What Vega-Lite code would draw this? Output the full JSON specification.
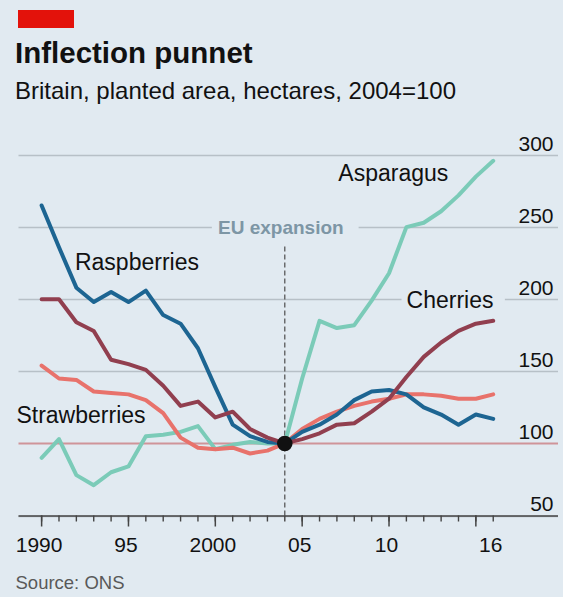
{
  "$schema": "https://vega.github.io/schema/vega-lite/v6.json",
  "background": "#e1eaf1",
  "padding": {"left": 15, "top": 10, "right": 5, "bottom": 5},
  "spacing": 127,
  "bounds": "flush",
  "config": {"view": {"stroke": null}, "font": "Liberation Sans"},
  "datasets": {
    "crops": [
      {"crop": "Asparagus", "year": 1990, "value": 90},
      {"crop": "Asparagus", "year": 1991, "value": 103},
      {"crop": "Asparagus", "year": 1992, "value": 78},
      {"crop": "Asparagus", "year": 1993, "value": 71},
      {"crop": "Asparagus", "year": 1994, "value": 80},
      {"crop": "Asparagus", "year": 1995, "value": 84},
      {"crop": "Asparagus", "year": 1996, "value": 105},
      {"crop": "Asparagus", "year": 1997, "value": 106},
      {"crop": "Asparagus", "year": 1998, "value": 108},
      {"crop": "Asparagus", "year": 1999, "value": 112},
      {"crop": "Asparagus", "year": 2000, "value": 96},
      {"crop": "Asparagus", "year": 2001, "value": 99},
      {"crop": "Asparagus", "year": 2002, "value": 101},
      {"crop": "Asparagus", "year": 2003, "value": 100},
      {"crop": "Asparagus", "year": 2004, "value": 100},
      {"crop": "Asparagus", "year": 2005, "value": 145},
      {"crop": "Asparagus", "year": 2006, "value": 185},
      {"crop": "Asparagus", "year": 2007, "value": 180},
      {"crop": "Asparagus", "year": 2008, "value": 182},
      {"crop": "Asparagus", "year": 2009, "value": 199},
      {"crop": "Asparagus", "year": 2010, "value": 218},
      {"crop": "Asparagus", "year": 2011, "value": 250},
      {"crop": "Asparagus", "year": 2012, "value": 253},
      {"crop": "Asparagus", "year": 2013, "value": 261},
      {"crop": "Asparagus", "year": 2014, "value": 272},
      {"crop": "Asparagus", "year": 2015, "value": 285},
      {"crop": "Asparagus", "year": 2016, "value": 296},
      {"crop": "Strawberries", "year": 1990, "value": 154},
      {"crop": "Strawberries", "year": 1991, "value": 145},
      {"crop": "Strawberries", "year": 1992, "value": 144},
      {"crop": "Strawberries", "year": 1993, "value": 136},
      {"crop": "Strawberries", "year": 1994, "value": 135},
      {"crop": "Strawberries", "year": 1995, "value": 134},
      {"crop": "Strawberries", "year": 1996, "value": 130},
      {"crop": "Strawberries", "year": 1997, "value": 121},
      {"crop": "Strawberries", "year": 1998, "value": 104},
      {"crop": "Strawberries", "year": 1999, "value": 97},
      {"crop": "Strawberries", "year": 2000, "value": 96},
      {"crop": "Strawberries", "year": 2001, "value": 97},
      {"crop": "Strawberries", "year": 2002, "value": 93},
      {"crop": "Strawberries", "year": 2003, "value": 95},
      {"crop": "Strawberries", "year": 2004, "value": 100},
      {"crop": "Strawberries", "year": 2005, "value": 110},
      {"crop": "Strawberries", "year": 2006, "value": 117},
      {"crop": "Strawberries", "year": 2007, "value": 122},
      {"crop": "Strawberries", "year": 2008, "value": 126},
      {"crop": "Strawberries", "year": 2009, "value": 129},
      {"crop": "Strawberries", "year": 2010, "value": 131},
      {"crop": "Strawberries", "year": 2011, "value": 134},
      {"crop": "Strawberries", "year": 2012, "value": 134},
      {"crop": "Strawberries", "year": 2013, "value": 133},
      {"crop": "Strawberries", "year": 2014, "value": 131},
      {"crop": "Strawberries", "year": 2015, "value": 131},
      {"crop": "Strawberries", "year": 2016, "value": 134},
      {"crop": "Raspberries", "year": 1990, "value": 265},
      {"crop": "Raspberries", "year": 1991, "value": 236},
      {"crop": "Raspberries", "year": 1992, "value": 208},
      {"crop": "Raspberries", "year": 1993, "value": 198},
      {"crop": "Raspberries", "year": 1994, "value": 205},
      {"crop": "Raspberries", "year": 1995, "value": 198},
      {"crop": "Raspberries", "year": 1996, "value": 206},
      {"crop": "Raspberries", "year": 1997, "value": 189},
      {"crop": "Raspberries", "year": 1998, "value": 183},
      {"crop": "Raspberries", "year": 1999, "value": 166},
      {"crop": "Raspberries", "year": 2000, "value": 139},
      {"crop": "Raspberries", "year": 2001, "value": 113},
      {"crop": "Raspberries", "year": 2002, "value": 105},
      {"crop": "Raspberries", "year": 2003, "value": 101},
      {"crop": "Raspberries", "year": 2004, "value": 100},
      {"crop": "Raspberries", "year": 2005, "value": 108},
      {"crop": "Raspberries", "year": 2006, "value": 113},
      {"crop": "Raspberries", "year": 2007, "value": 120},
      {"crop": "Raspberries", "year": 2008, "value": 130},
      {"crop": "Raspberries", "year": 2009, "value": 136},
      {"crop": "Raspberries", "year": 2010, "value": 137},
      {"crop": "Raspberries", "year": 2011, "value": 134},
      {"crop": "Raspberries", "year": 2012, "value": 125},
      {"crop": "Raspberries", "year": 2013, "value": 120},
      {"crop": "Raspberries", "year": 2014, "value": 113},
      {"crop": "Raspberries", "year": 2015, "value": 120},
      {"crop": "Raspberries", "year": 2016, "value": 117},
      {"crop": "Cherries", "year": 1990, "value": 200},
      {"crop": "Cherries", "year": 1991, "value": 200},
      {"crop": "Cherries", "year": 1992, "value": 184},
      {"crop": "Cherries", "year": 1993, "value": 178},
      {"crop": "Cherries", "year": 1994, "value": 158},
      {"crop": "Cherries", "year": 1995, "value": 155},
      {"crop": "Cherries", "year": 1996, "value": 151},
      {"crop": "Cherries", "year": 1997, "value": 140},
      {"crop": "Cherries", "year": 1998, "value": 126},
      {"crop": "Cherries", "year": 1999, "value": 129},
      {"crop": "Cherries", "year": 2000, "value": 118},
      {"crop": "Cherries", "year": 2001, "value": 122},
      {"crop": "Cherries", "year": 2002, "value": 110},
      {"crop": "Cherries", "year": 2003, "value": 104},
      {"crop": "Cherries", "year": 2004, "value": 100},
      {"crop": "Cherries", "year": 2005, "value": 103},
      {"crop": "Cherries", "year": 2006, "value": 107},
      {"crop": "Cherries", "year": 2007, "value": 113},
      {"crop": "Cherries", "year": 2008, "value": 114},
      {"crop": "Cherries", "year": 2009, "value": 122},
      {"crop": "Cherries", "year": 2010, "value": 131},
      {"crop": "Cherries", "year": 2011, "value": 146},
      {"crop": "Cherries", "year": 2012, "value": 160},
      {"crop": "Cherries", "year": 2013, "value": 170},
      {"crop": "Cherries", "year": 2014, "value": 178},
      {"crop": "Cherries", "year": 2015, "value": 183},
      {"crop": "Cherries", "year": 2016, "value": 185}
    ]
  },
  "vconcat": [
    {
      "width": 56,
      "height": 18,
      "data": {"values": [{"k": 1}]},
      "mark": {"type": "rect", "color": "#e3120b"}
    },
    {
      "width": 539.5,
      "height": 360.5,
      "title": {
        "text": "Inflection punnet",
        "subtitle": "Britain, planted area, hectares, 2004=100",
        "anchor": "start",
        "frame": "group",
        "dx": -3,
        "offset": 28,
        "font": "Liberation Sans",
        "fontSize": 29.5,
        "fontWeight": "bold",
        "color": "#111111",
        "subtitleFont": "Liberation Sans",
        "subtitleFontSize": 24,
        "subtitleColor": "#111111",
        "subtitlePadding": 11
      },
      "resolve": {"axis": {"x": "independent"}},
      "layer": [
        {
          "data": {"values": [{}]},
          "mark": {"type": "rect", "color": "#e1eaf1"},
          "encoding": {
            "x": {"datum": 1999.8, "type": "quantitative", "axis": null},
            "x2": {"datum": 2008.25},
            "y": {"datum": 246.5, "type": "quantitative"},
            "y2": {"datum": 253.5}
          }
        },
        {
          "data": {"values": [{}]},
          "mark": {"type": "rect", "color": "#e1eaf1"},
          "encoding": {
            "x": {"datum": 2010.72, "type": "quantitative", "axis": null},
            "x2": {"datum": 2016.67},
            "y": {"datum": 196.5, "type": "quantitative"},
            "y2": {"datum": 203.5}
          }
        },
        {
          "data": {"values": [{}]},
          "mark": {"type": "rule", "strokeDash": [5, 3], "color": "#4d4d4d", "strokeWidth": 1.2},
          "encoding": {
            "x": {
              "datum": 2004,
              "type": "quantitative",
              "axis": {
                "orient": "bottom",
                "values": [1990, 1995, 2000, 2005, 2010, 2016],
                "labelExpr": "datum.value == 1990 ? '1990' : datum.value == 1995 ? '95' : datum.value == 2000 ? '2000' : datum.value == 2005 ? '05' : datum.value == 2010 ? '10' : '16'",
                "ticks": false,
                "tickSize": 0,
                "domain": false,
                "grid": false,
                "labelFont": "Liberation Sans",
                "labelFontSize": 21,
                "labelColor": "#111111",
                "labelBaseline": "alphabetic",
                "labelPadding": 36,
                "labelOffset": -3,
                "labelFlush": false,
                "labelOverlap": false,
                "title": null
              }
            },
            "y": {"datum": 50, "type": "quantitative"},
            "y2": {"datum": 238}
          }
        },
        {
          "data": {"name": "crops"},
          "transform": [{"filter": "datum.crop === 'Cherries'"}],
          "mark": {"type": "rule", "color": "#444444", "strokeWidth": 1.4},
          "encoding": {
            "x": {"field": "year", "type": "quantitative", "axis": null},
            "y": {"datum": 50, "type": "quantitative"},
            "y2": {"datum": 45.84}
          }
        },
        {
          "data": {"name": "crops"},
          "transform": [{"filter": "datum.crop === 'Cherries' && datum.year % 5 === 0"}],
          "mark": {"type": "rule", "color": "#444444", "strokeWidth": 1.5},
          "encoding": {
            "x": {"field": "year", "type": "quantitative", "axis": null},
            "y": {"datum": 50, "type": "quantitative"},
            "y2": {"datum": 42.37}
          }
        },
        {
          "data": {"name": "crops"},
          "mark": {"type": "line", "strokeWidth": 4, "strokeJoin": "round", "strokeCap": "round"},
          "encoding": {
            "x": {
              "field": "year",
              "type": "quantitative",
              "scale": {"domain": [1988.64, 2019.7], "nice": false, "zero": false},
              "axis": {
                "orient": "bottom",
                "values": [1990, 2000, 2010],
                "ticks": false,
                "domainColor": "#444444",
                "domainWidth": 1.6,
                "grid": false,
                "labels": false,
                "title": "Source: ONS",
                "titleAnchor": "start",
                "titleAlign": "left",
                "titleX": -3,
                "titleY": 73,
                "titleBaseline": "alphabetic",
                "titleFont": "Liberation Sans",
                "titleFontSize": 18.5,
                "titleFontWeight": "normal",
                "titleColor": "#595959"
              }
            },
            "y": {
              "field": "value",
              "type": "quantitative",
              "scale": {"domain": [50, 300], "nice": false, "zero": false},
              "axis": {
                "orient": "right",
                "values": [50, 100, 150, 200, 250, 300],
                "grid": true,
                "gridColor": {"condition": {"test": "datum.value === 100", "value": "#cf9499"}, "value": "#b7c0c7"},
                "gridWidth": {"condition": {"test": "datum.value === 100", "value": 1.8}, "value": 1.4},
                "domain": false,
                "ticks": false,
                "tickSize": 0,
                "labelAlign": "right",
                "labelBaseline": "alphabetic",
                "labelPadding": -4.5,
                "labelOffset": -5,
                "labelFont": "Liberation Sans",
                "labelFontSize": 21,
                "labelColor": "#111111",
                "labelFlush": false,
                "title": null
              }
            },
            "color": {
              "field": "crop",
              "type": "nominal",
              "scale": {
                "domain": ["Asparagus", "Strawberries", "Raspberries", "Cherries"],
                "range": ["#7bcbb8", "#e8726b", "#1d6592", "#913f4f"]
              },
              "legend": null
            }
          }
        },
        {
          "data": {"values": [{}]},
          "mark": {"type": "circle", "size": 240, "color": "#111111", "opacity": 1},
          "encoding": {
            "x": {"datum": 2004, "type": "quantitative", "axis": null},
            "y": {"datum": 100, "type": "quantitative"}
          }
        },
        {
          "data": {"values": [{}]},
          "mark": {"type": "text", "align": "left", "baseline": "alphabetic", "fontSize": 23, "font": "Liberation Sans", "color": "#111111"},
          "encoding": {
            "x": {"datum": 1991.92, "type": "quantitative", "axis": null},
            "y": {"datum": 220.2, "type": "quantitative"},
            "text": {"value": "Raspberries"}
          }
        },
        {
          "data": {"values": [{}]},
          "mark": {"type": "text", "align": "left", "baseline": "alphabetic", "fontSize": 23, "font": "Liberation Sans", "color": "#111111"},
          "encoding": {
            "x": {"datum": 1988.55, "type": "quantitative", "axis": null},
            "y": {"datum": 113.9, "type": "quantitative"},
            "text": {"value": "Strawberries"}
          }
        },
        {
          "data": {"values": [{}]},
          "mark": {"type": "text", "align": "left", "baseline": "alphabetic", "fontSize": 23, "font": "Liberation Sans", "color": "#111111"},
          "encoding": {
            "x": {"datum": 2007.08, "type": "quantitative", "axis": null},
            "y": {"datum": 282, "type": "quantitative"},
            "text": {"value": "Asparagus"}
          }
        },
        {
          "data": {"values": [{}]},
          "mark": {"type": "text", "align": "left", "baseline": "alphabetic", "fontSize": 23, "font": "Liberation Sans", "color": "#111111"},
          "encoding": {
            "x": {"datum": 2011.01, "type": "quantitative", "axis": null},
            "y": {"datum": 193.7, "type": "quantitative"},
            "text": {"value": "Cherries"}
          }
        },
        {
          "data": {"values": [{}]},
          "mark": {"type": "text", "align": "center", "baseline": "alphabetic", "fontSize": 19, "fontWeight": "bold", "font": "Liberation Sans", "color": "#7d96a5"},
          "encoding": {
            "x": {"datum": 2003.77, "type": "quantitative", "axis": null},
            "y": {"datum": 245.2, "type": "quantitative"},
            "text": {"value": "EU expansion"}
          }
        }
      ]
    }
  ]
}
